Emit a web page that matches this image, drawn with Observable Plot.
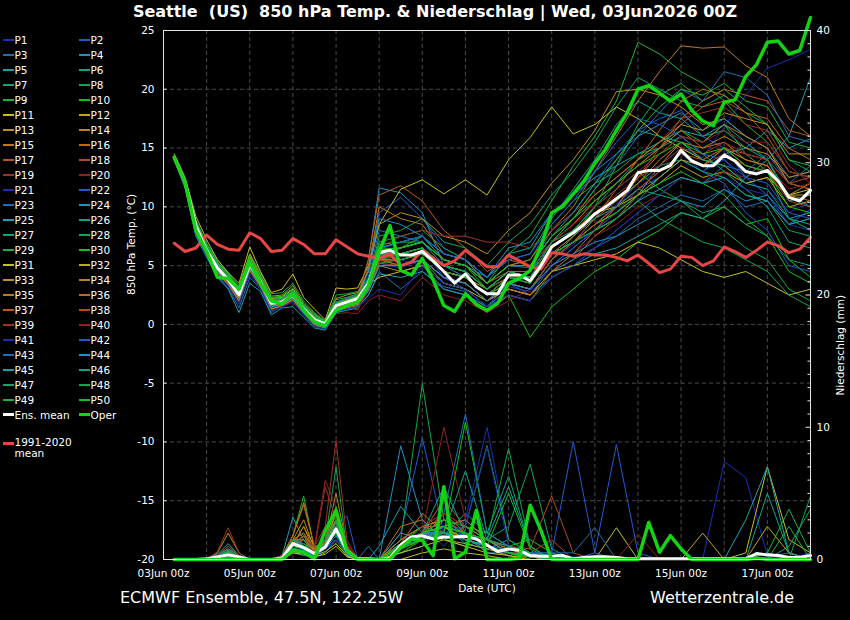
<!DOCTYPE html>
<html><head><meta charset="utf-8">
<script src="https://cdn.jsdelivr.net/npm/d3@7"></script>
<script src="https://cdn.jsdelivr.net/npm/@observablehq/plot@0.6"></script>
<style>
body{margin:0;background:#000;}
#wrap{position:relative;width:850px;height:620px;background:#000;overflow:hidden;font-family:"DejaVu Sans",sans-serif;color:#fff;}
#chart{position:absolute;left:0;top:0;}
#title{position:absolute;left:10px;width:850px;top:2px;text-align:center;font-weight:bold;font-size:16px;white-space:pre;}
#legend{position:absolute;left:0;top:0;width:160px;height:620px;}
.foot{position:absolute;top:588px;font-size:16px;white-space:nowrap;}
</style></head>
<body>
<div id="wrap">
  <div id="chart"></div>
  <div id="title">Seattle  (US)  850 hPa Temp. &amp; Niederschlag | Wed, 03Jun2026 00Z</div>
  <div id="legend"></div>
  <div class="foot" style="left:120px">ECMWF Ensemble, 47.5N, 122.25W</div>
  <div class="foot" style="left:650px">Wetterzentrale.de</div>
</div>
<script>
// ---------- data ----------
const hours6 = [6,12,18,24,30,36,42,48,54,60,66,72,78,84,90,96,102,108,114,120,126,132,138,144,150,156,162,168,174,180,186,192,198,204,210,216,222,228,234,240,246,252,258,264,270,276,282,288,294,300,306,312,318,324,330,336,342,348,354,360];
const memberHours = [6,12,18,24,30,36,42,48,54,60,66,72,78,84,90,96,102,108,114,120,132,144,156,168,180,192,204,216,228,240,252,264,276,288,300,312,324,336,348,360];
const xTickHours = [0,48,96,144,192,240,288,336];
const xTickLabels = ["03Jun 00z","05Jun 00z","07Jun 00z","09Jun 00z","11Jun 00z","13Jun 00z","15Jun 00z","17Jun 00z"];
const dayHours = [24,48,72,96,120,144,168,192,216,240,264,288,312,336];
const tempTicks = [-20,-15,-10,-5,0,5,10,15,20,25];
const tempGrid = [-15,-10,-5,0,5,10,15,20];
const precipTicks = [0,10,20,30,40];
const precipMinor = [1,2,3,4,5,6,7,8,9,11,12,13,14,15,16,17,18,19,21,22,23,24,25,26,27,28,29,31,32,33,34,35,36,37,38,39];

const ensMeanTemp = [14.2,12.1,8.4,6.3,4.8,3.8,2.5,5.1,3.6,1.8,1.9,2.5,1.3,0.4,0.05,1.6,1.9,2.2,3.5,6.1,6.3,5.9,5.9,6.2,5.4,4.5,3.5,4.3,3.2,2.6,2.6,4.2,4.2,3.7,5.0,6.6,7.2,7.8,8.5,9.4,10.0,10.7,11.4,12.9,13.1,13.1,13.5,14.8,13.9,13.5,13.5,14.4,13.9,13.0,12.8,13.1,12.2,10.8,10.5,11.4];
const operTemp = [14.2,12.1,8.0,6.2,4.0,3.9,3.0,5.3,3.5,2.0,1.75,2.6,1.2,0.2,-0.1,1.2,1.6,1.9,3.3,6.2,8.4,4.6,4.2,5.6,3.8,1.6,1.1,2.6,1.7,1.2,1.8,3.5,3.9,4.6,6.6,9.5,10.0,11.1,12.2,13.7,14.9,16.5,18.0,20.0,20.3,19.7,19.0,19.6,18.2,17.3,16.9,18.9,19.1,21.1,22.1,24.0,24.1,23.0,23.3,26.1];
const climTemp = [6.9,6.2,6.5,7.6,6.8,6.4,6.3,7.8,7.3,6.2,6.3,7.3,6.8,6.0,6.0,7.2,6.6,6.0,5.8,5.6,6.0,5.0,5.3,6.3,5.6,5.0,5.4,6.3,5.6,4.9,4.9,5.9,5.4,4.9,4.7,6.1,6.0,5.8,6.0,5.9,5.9,5.7,5.4,5.9,5.2,4.4,4.7,5.8,5.7,5.0,5.4,6.6,6.2,5.7,6.3,7.0,6.7,6.1,6.4,7.4];
const ensMeanPrecip = [0,0,0,0.05,0.2,0.35,0.2,0,0,0,0.1,1.2,0.9,0.45,0.95,2.3,0.7,0.05,0.05,0,0.1,1.1,1.7,1.8,1.55,1.7,1.7,1.75,1.55,1.1,0.6,0.8,0.7,0.3,0.25,0.25,0.3,0.05,0.15,0.2,0.2,0.15,0.05,0.05,0.05,0.05,0.05,0.05,0.05,0.05,0.05,0.05,0.05,0.05,0.45,0.35,0.3,0.15,0.15,0.3];
const operPrecip = [0,0,0,0,0,0,0,0,0,0,0,0.7,0.55,0.05,2.2,3.7,0.7,0,0,0,0,0.9,1.55,1.45,0.3,5.5,0.05,0.55,3.7,0,0,0,0.1,4.1,2.2,0,0,0,0,0,0,0,0,0,2.8,0.55,1.8,0.8,0,0,0,0,0,0,0.1,0,0,0,0,0];

const memberColors = ["#1a2fb4","#1f5cd2","#1f6fb4","#1f90c4","#17a2a8","#12a486","#12a468","#12a848","#1ab434","#12c412","#c4c020","#bca81a","#b8941a","#b8861a","#c07818","#c06a18","#b85a18","#b04a20","#a03222","#902020"];

const memberTemp = [
[14.1,11.8,8.0,6.0,4.5,3.6,2.2,4.8,3.4,1.6,1.8,2.3,1.1,0.2,-0.2,1.3,1.7,2.0,3.0,5.2,4.8,5.5,3.9,3.5,2.0,3.2,2.8,5.5,6.8,8.5,10.2,12.0,13.5,15.0,14.2,16.8,19.5,21.8,22.5,23.4],
[14.3,12.1,8.6,6.5,5.0,4.0,2.8,5.4,3.9,2.0,2.1,2.8,1.5,0.6,0.1,1.8,2.2,2.5,4.5,9.5,10.8,9.0,6.5,5.5,3.5,5.0,4.8,8.0,9.5,12.0,14.5,16.5,17.5,18.2,16.0,15.0,12.5,11.0,8.5,9.8],
[14.0,11.6,7.6,5.8,4.1,3.1,1.4,4.0,3.0,1.0,1.6,2.0,0.9,-0.1,-0.4,1.0,1.3,1.5,2.5,4.5,3.0,4.5,3.2,2.8,1.0,2.5,2.0,4.0,5.0,6.5,8.0,9.5,11.0,12.5,12.0,13.5,13.0,14.5,12.0,13.5],
[14.2,11.9,8.2,6.2,4.6,3.7,2.3,5.0,3.5,1.7,1.9,2.6,1.3,0.4,0.0,1.7,2.0,2.3,5.5,11.6,11.2,9.5,5.0,4.0,2.5,3.5,3.0,5.0,6.5,8.0,9.0,10.5,12.5,14.0,13.0,14.5,15.0,16.5,15.0,15.8],
[14.3,12.2,8.8,6.8,5.3,4.3,3.0,5.8,4.0,2.2,2.4,3.0,1.6,0.8,0.2,1.9,2.0,2.4,3.8,6.5,7.0,7.5,6.0,5.5,4.0,6.0,6.5,9.5,11.0,12.5,13.5,14.5,15.5,16.5,16.0,17.0,15.5,14.0,10.5,11.0],
[14.1,11.9,8.1,6.1,4.9,3.9,2.6,5.2,3.7,1.9,2.0,2.4,1.2,0.3,-0.1,1.5,1.8,2.1,3.2,5.8,6.5,7.0,5.0,4.5,3.0,4.0,3.5,6.5,8.0,10.0,12.0,14.0,15.0,16.0,14.5,13.0,11.5,10.0,7.0,6.5],
[14.2,12.0,8.4,6.4,4.7,3.8,2.5,5.1,3.6,1.8,1.9,2.5,1.4,0.5,0.1,1.6,1.9,2.2,3.5,7.5,8.0,9.0,7.0,6.5,5.0,7.0,8.5,11.0,13.0,15.5,18.5,21.0,20.0,19.0,18.5,19.5,18.0,17.0,14.0,13.0],
[14.4,12.3,8.9,6.9,5.5,4.4,3.3,6.0,4.4,2.6,2.7,3.5,2.0,1.0,0.3,2.5,2.6,2.8,4.0,7.0,7.5,8.0,6.5,5.5,3.5,5.0,5.5,8.5,10.5,12.0,13.0,14.5,15.0,16.5,15.5,17.0,14.5,13.0,9.0,8.0],
[14.2,12.0,8.3,6.3,4.8,3.8,2.5,5.1,3.6,1.8,1.9,2.5,1.3,0.4,0.0,1.6,1.9,2.2,3.4,6.0,6.5,7.5,5.5,5.0,3.5,6.0,7.5,10.5,13.5,16.0,19.0,24.0,23.0,21.5,20.5,19.0,17.0,15.5,13.0,12.5],
[14.1,11.8,8.0,6.1,4.6,3.6,2.3,4.9,3.4,1.6,1.7,2.3,1.1,0.2,-0.2,1.4,1.6,1.9,3.0,5.5,5.0,5.5,3.5,3.0,1.5,2.5,-1.1,1.5,3.0,4.5,5.5,7.0,8.0,9.5,9.0,10.0,8.5,9.0,5.5,4.0],
[14.5,12.5,9.2,7.2,5.5,4.4,3.5,6.6,4.5,2.7,3.0,4.3,2.3,1.3,0.4,3.1,3.0,3.1,5.0,8.5,11.5,12.3,11.1,12.3,11.0,14.0,15.9,18.5,16.2,17.0,18.5,17.5,16.0,15.0,14.0,13.5,12.0,12.5,11.0,11.5],
[14.2,12.1,8.5,6.6,5.1,4.1,2.9,5.7,4.0,2.2,2.3,3.0,1.7,0.7,0.1,1.9,2.2,2.5,3.6,5.5,5.5,6.0,4.5,4.0,2.5,4.0,4.0,6.0,7.0,8.5,9.5,11.0,12.0,13.5,12.5,13.0,12.0,12.5,10.0,10.5],
[14.3,12.2,8.7,6.7,5.2,4.2,3.1,6.0,4.2,2.4,2.5,3.3,1.8,0.9,0.2,2.2,2.5,2.7,4.5,8.5,9.5,9.0,7.5,7.0,6.0,8.0,9.5,12.0,14.0,16.5,19.8,20.0,19.5,18.5,17.0,17.5,16.0,15.0,12.0,11.5],
[14.0,11.7,7.8,5.9,4.4,3.4,2.0,4.6,3.2,1.3,1.6,2.1,1.0,0.0,-0.3,1.2,1.4,1.6,2.8,5.0,4.5,5.0,3.0,2.5,1.0,2.5,2.0,4.5,5.5,7.5,9.0,11.0,13.5,15.5,14.0,15.0,13.5,13.0,11.0,12.0],
[14.2,12.0,8.4,6.3,4.9,3.9,2.6,5.3,3.7,1.9,2.0,2.6,1.4,0.4,0.0,1.7,2.0,2.3,4.8,10.0,9.0,8.5,6.0,5.5,3.5,5.0,5.5,8.0,10.0,13.0,16.0,19.0,21.5,23.7,23.5,23.6,22.0,21.0,17.5,16.0],
[14.1,11.9,8.1,6.2,4.6,3.6,2.3,5.0,3.5,1.7,1.8,2.4,1.2,0.3,-0.1,1.5,1.8,2.1,3.2,5.5,5.0,5.5,4.0,3.5,2.0,3.5,3.0,5.5,7.0,9.0,11.5,14.0,16.5,19.0,20.0,19.5,18.0,17.5,15.0,14.0],
[14.3,12.1,8.6,6.5,5.0,4.0,2.8,5.4,3.8,2.0,2.1,2.8,1.5,0.6,0.1,1.8,2.1,2.4,5.5,11.0,11.8,10.5,8.0,6.5,4.5,5.5,5.0,7.0,8.5,10.5,12.0,13.5,15.0,17.0,18.5,19.0,18.0,16.0,13.0,12.5],
[14.2,12.0,8.2,6.2,4.7,3.7,2.4,5.0,3.5,1.7,1.8,2.4,1.2,0.3,-0.1,1.5,1.8,2.0,3.1,5.4,5.5,6.0,4.5,4.0,2.5,3.5,3.0,5.5,7.0,8.5,10.0,11.5,13.0,14.5,13.5,14.5,13.5,13.0,10.5,10.0],
[14.2,12.0,8.3,6.3,4.8,3.8,2.5,5.1,3.6,1.8,1.9,2.5,1.3,0.4,0.0,1.6,1.9,2.2,3.4,6.5,7.5,8.0,7.5,7.5,7.0,7.0,6.5,8.0,9.5,11.0,12.5,14.0,15.5,17.5,18.0,18.5,17.0,16.5,13.5,12.0],
[14.0,11.7,7.9,5.9,4.3,3.3,1.8,4.5,3.1,1.2,1.5,2.0,0.8,-0.2,-0.4,0.9,1.0,0.9,2.0,2.5,2.0,4.0,2.5,2.0,1.0,2.0,3.0,5.0,6.0,7.5,8.5,10.0,11.0,12.5,12.0,13.0,12.5,13.5,11.5,12.0],
[14.2,12.0,8.3,6.3,4.9,3.9,2.6,5.2,3.7,1.9,2.0,2.6,1.4,0.5,0.0,1.7,2.0,2.3,3.6,6.5,5.5,5.0,3.0,2.5,1.5,3.5,4.0,6.0,7.5,9.0,10.0,12.0,13.0,14.5,13.0,14.0,12.0,11.5,9.5,10.5],
[14.3,12.1,8.5,6.4,4.8,3.8,2.4,5.0,3.5,1.7,1.9,2.5,1.3,0.4,0.0,1.6,1.9,2.2,3.3,5.8,6.0,6.5,4.0,3.0,1.5,3.5,2.5,5.0,6.5,8.0,9.5,11.5,12.5,14.0,13.0,12.0,9.5,8.0,5.0,4.5],
[14.1,11.8,8.0,6.0,4.5,3.5,2.1,4.7,3.3,1.4,1.7,2.2,1.0,0.1,-0.3,1.3,1.5,1.7,2.9,5.0,5.0,5.5,4.0,3.5,2.0,3.0,2.5,4.5,5.5,6.5,7.5,9.0,10.0,11.0,10.5,11.5,10.0,10.5,8.5,9.0],
[14.2,11.9,8.3,6.3,4.8,3.8,2.4,5.0,3.6,1.8,1.9,2.5,1.3,0.4,0.0,1.6,1.9,2.2,4.5,9.0,8.5,7.5,5.5,5.0,4.0,6.5,7.0,9.5,11.0,13.0,14.5,16.0,17.0,18.0,16.5,17.5,16.0,15.0,12.5,13.0],
[14.0,11.6,7.5,5.7,4.0,3.0,1.0,3.5,2.8,0.8,1.4,1.5,0.6,-0.3,-0.5,1.0,1.2,1.4,2.5,4.3,4.0,4.5,3.0,2.5,1.5,3.0,2.5,4.0,5.0,6.0,6.5,7.5,8.5,9.5,9.0,10.5,12.5,14.0,16.0,21.0],
[14.3,12.2,8.7,6.7,5.2,4.2,3.0,5.6,3.9,2.1,2.2,2.9,1.6,0.7,0.2,1.9,2.1,2.4,3.8,6.5,7.0,7.5,6.0,5.5,4.0,5.5,6.0,9.0,11.5,14.0,17.0,19.0,18.0,17.5,16.0,16.5,15.0,14.0,11.0,10.0],
[14.2,12.0,8.3,6.3,4.8,3.8,2.5,5.1,3.6,1.8,1.9,2.5,1.3,0.4,0.0,1.6,1.9,2.2,3.4,6.0,6.0,6.5,5.0,4.5,3.0,4.5,4.5,7.0,8.0,9.5,10.5,12.0,13.5,14.0,13.0,12.5,11.0,10.5,8.0,7.5],
[14.1,11.9,8.2,6.2,4.7,3.7,2.4,5.0,3.5,1.7,1.8,2.4,1.2,0.3,-0.1,1.5,1.8,2.0,3.1,5.2,5.5,6.0,4.5,4.0,2.5,4.0,4.0,6.5,8.0,10.0,11.5,13.0,11.5,10.5,9.0,8.0,6.5,5.5,3.0,2.0],
[14.2,12.1,8.4,6.4,4.9,3.9,2.6,5.2,3.7,1.9,2.0,2.6,1.4,0.5,0.0,1.7,2.0,2.3,3.5,6.0,5.5,6.0,4.5,4.0,2.5,3.5,3.0,5.5,7.5,10.0,13.5,17.0,19.5,20.5,19.0,20.0,18.5,17.0,14.0,13.5],
[14.4,12.3,8.8,6.8,5.3,4.3,3.1,5.8,4.1,2.3,2.4,3.1,1.7,0.8,0.3,2.1,2.3,2.6,3.9,6.8,7.0,7.0,5.5,5.0,3.0,4.0,3.5,6.0,7.0,8.5,9.5,11.0,12.0,13.0,12.0,11.0,9.0,7.5,4.5,3.5],
[14.2,12.0,8.3,6.3,4.8,3.8,2.5,5.1,3.6,1.8,1.9,2.5,1.3,0.4,0.0,1.6,1.9,2.2,3.4,4.0,4.5,5.0,3.5,3.0,2.0,3.0,2.5,4.5,5.0,5.5,6.0,7.0,6.5,5.5,4.5,4.0,4.5,3.5,2.5,3.0],
[14.1,11.8,8.0,6.0,4.5,3.5,2.2,4.8,3.4,1.6,1.8,2.3,1.1,0.2,-0.2,1.4,1.7,1.9,3.0,5.5,6.0,6.5,4.5,4.0,3.0,4.5,4.0,6.5,8.0,9.5,10.0,11.0,12.5,14.0,13.5,15.0,14.0,13.5,11.0,11.0],
[14.3,12.1,8.6,6.5,5.0,4.0,2.7,5.3,3.8,2.0,2.1,2.7,1.5,0.6,0.1,1.8,2.1,2.4,3.7,6.3,6.5,7.0,5.5,5.0,3.5,5.0,5.0,7.5,9.0,11.0,12.5,14.0,15.5,17.0,16.5,18.0,17.5,17.0,14.5,14.5],
[14.2,12.0,8.3,6.3,4.8,3.8,2.5,5.1,3.6,1.8,1.9,2.5,1.3,0.4,0.0,1.6,1.9,2.2,3.4,6.0,6.0,6.5,4.5,4.0,2.5,4.0,4.0,6.0,7.5,9.0,10.5,12.0,14.0,15.5,15.0,16.0,15.0,14.5,12.5,13.0],
[14.0,11.7,7.8,5.9,4.4,3.4,2.0,4.6,3.2,1.3,1.6,2.1,1.0,0.0,-0.3,1.2,1.5,1.7,2.9,5.0,5.0,5.5,4.0,3.5,2.0,3.0,2.5,4.5,6.0,8.0,10.0,12.5,14.5,16.0,15.5,17.0,16.0,15.0,12.0,11.5],
[14.3,12.2,8.7,6.6,5.1,4.1,2.9,5.6,3.9,2.1,2.2,2.8,1.5,0.6,0.1,1.8,2.1,2.4,3.6,6.2,6.5,7.0,5.5,5.0,3.5,4.5,4.5,7.0,8.5,10.5,12.0,13.5,15.0,16.5,15.0,15.5,14.0,13.5,11.0,10.5],
[14.2,12.0,8.3,6.3,4.8,3.8,2.5,5.1,3.6,1.8,1.9,2.5,1.3,0.4,0.0,1.6,1.9,2.2,3.4,6.0,6.0,6.5,4.5,4.0,2.5,4.0,3.5,6.0,7.0,8.5,10.0,12.5,15.0,17.5,19.0,20.0,19.5,19.0,16.5,16.0],
[14.1,11.9,8.1,6.1,4.6,3.6,2.3,4.9,3.4,1.6,1.8,2.3,1.1,0.2,-0.2,1.4,1.7,2.0,3.0,5.2,5.0,5.5,4.0,3.5,2.0,3.5,3.0,5.5,7.0,8.5,10.0,11.5,13.0,14.5,14.0,15.0,14.5,14.0,12.0,12.5],
[14.3,12.1,8.5,6.5,5.0,4.0,2.7,5.3,3.8,2.0,2.1,2.7,1.4,0.5,0.0,1.7,1.6,1.2,3.0,5.5,6.0,6.5,5.0,4.5,3.0,4.0,4.0,6.5,8.0,9.5,11.0,12.5,13.5,15.0,14.5,15.5,14.5,14.0,12.0,11.5],
[14.2,12.0,8.3,6.3,4.8,3.8,2.5,5.1,3.6,1.8,1.9,2.5,1.3,0.4,0.0,1.6,1.9,2.2,3.4,6.0,6.0,6.5,5.0,4.5,3.0,4.5,4.5,7.0,8.5,10.0,11.5,13.0,14.5,16.0,15.5,16.5,15.5,15.5,13.0,12.5],
[14.0,11.7,7.7,5.8,4.2,3.2,1.7,4.3,3.0,1.1,1.5,1.9,0.8,-0.2,-0.4,1.1,1.3,1.5,2.2,3.0,2.5,5.0,3.5,3.0,1.5,2.5,2.0,4.0,5.0,6.5,8.0,9.5,11.0,12.5,12.0,12.5,11.5,11.0,8.5,8.0],
[14.3,12.2,8.6,6.6,5.1,4.1,2.8,5.5,3.9,2.1,2.2,2.8,1.5,0.6,0.1,1.9,2.2,2.5,3.7,6.4,7.0,7.5,6.0,5.5,4.0,5.5,6.0,8.5,10.5,13.0,15.5,17.5,17.0,16.0,14.5,14.0,12.5,12.0,9.5,9.0],
[14.2,12.0,8.3,6.3,4.8,3.8,2.5,5.1,3.6,1.8,1.9,2.5,1.3,0.4,0.0,1.6,1.9,2.2,4.0,8.0,7.5,7.0,5.0,4.5,3.0,4.5,4.5,7.0,9.0,11.5,13.5,16.0,18.0,20.0,19.0,21.5,21.0,19.5,16.0,15.5],
[14.1,11.8,8.0,6.0,4.5,3.5,2.1,4.7,3.3,1.5,1.7,2.2,1.0,0.1,-0.3,1.3,1.6,1.8,2.9,5.0,5.0,5.5,4.0,3.5,2.0,3.5,3.0,5.0,6.0,7.0,7.5,8.5,9.5,10.5,10.0,11.5,10.5,11.0,9.0,9.5],
[14.2,12.0,8.3,6.3,4.8,3.8,2.5,5.1,3.6,1.8,1.9,2.5,1.3,0.4,0.0,1.6,1.9,2.2,3.4,6.0,6.0,6.5,5.0,4.5,3.0,4.5,4.0,6.0,7.0,8.0,9.0,10.5,11.5,12.5,12.0,12.5,11.0,10.5,8.5,9.0],
[14.3,12.1,8.5,6.5,5.0,4.0,2.7,5.3,3.8,2.0,2.1,2.7,1.4,0.5,0.0,1.7,2.0,2.3,3.5,6.2,6.5,7.0,5.5,5.0,3.5,5.0,5.0,7.5,9.5,12.0,14.0,16.5,16.0,15.5,14.0,13.5,12.0,11.5,9.0,8.5],
[14.2,12.0,8.3,6.3,4.8,3.8,2.5,5.1,3.6,1.8,1.9,2.5,1.3,0.4,0.0,1.6,1.9,2.2,3.4,6.0,6.0,6.5,5.0,4.5,3.0,4.5,4.5,6.5,8.0,9.0,10.0,11.5,11.0,10.5,9.5,10.0,8.5,7.5,5.5,5.0],
[14.1,11.9,8.2,6.2,4.7,3.7,2.4,5.0,3.5,1.7,1.8,2.4,1.2,0.3,-0.1,1.5,1.8,2.1,3.2,5.6,5.5,6.0,4.5,4.0,2.5,4.0,3.5,6.0,7.0,8.0,9.0,10.5,9.0,8.0,7.0,6.5,5.5,4.5,2.5,1.5],
[14.2,12.0,8.3,6.3,4.8,3.8,2.5,5.1,3.6,1.8,1.9,2.5,1.3,0.4,0.0,1.6,1.9,2.2,3.4,6.0,6.0,6.5,5.0,4.5,3.0,4.5,4.0,7.0,9.0,11.5,14.0,16.5,18.5,20.0,19.5,20.5,19.0,18.5,15.5,15.0],
[14.3,12.2,8.6,6.6,5.1,4.1,2.8,5.5,3.9,2.1,2.2,2.8,1.5,0.6,0.1,1.8,2.1,2.4,3.7,6.4,6.5,7.0,5.5,5.0,3.5,5.0,5.0,7.5,9.0,10.5,12.0,13.5,14.5,15.5,14.5,15.0,13.5,13.0,10.0,9.5]
];

const memberPrecip = [
[0,0,0,0,0,0.2,0,0,0,0,0.1,1.5,0.8,0.5,1.0,2.0,0.5,0,0,0,1.5,2.5,1.0,3.0,1.5,0.5,0,0,0,0,0,0,0,0,0,7.4,6.2,0.3,0,0],
[0,0,0,0,0.1,0.3,0.1,0,0,0,0,1.0,1.5,0.4,0.8,1.5,0.3,0,0,0,2.0,9.2,2.0,1.5,0.8,0.5,0.3,0,0.2,0,0,0,0,0,0,0,0,0,0,0.5],
[0,0,0,0,0.2,0.5,0.2,0,0,0,0.2,0.8,0.6,0.3,1.2,2.5,0.8,0,1.0,0,1.0,1.8,2.5,2.0,1.0,0.8,0.2,0,0,0,0,0,0,0,0,0,0,0.2,0.5,0],
[0,0,0,0,0,0.1,0,0,0,0,0,0.5,0.3,0.2,0.5,1.5,0.3,0,0,0,0.5,1.0,3.0,1.8,0.5,0.5,0,0,0,0,0,0,0,0,0,0,0,0,0,0],
[0,0,0,0,0.4,1.2,0.3,0,0,0,0.3,3.2,1.5,0.5,1.0,2.0,0.5,0,0,0,2.0,1.5,2.5,1.2,0.8,1.5,0.5,0,0,0,0,0,0,0,0,0,0,0,0,0],
[0,0,0,0,0.1,0.3,0.1,0,0,0,0,1.2,0.9,0.5,0.8,2.5,0.7,0,0,0,1.2,2.0,1.8,3.5,2.0,1.0,0.5,0,0,0,0,0,0,0,0,0,0,0.5,0,0],
[0,0,0,0,0.2,0.7,0.2,0,0,0,0.2,1.0,1.8,0.6,0.9,3.0,0.5,0,0,0,0.8,2.0,1.5,1.0,1.5,2.5,7.2,0.8,0,0,0,0,0,0,0,0,0,0,0,0],
[0,0,0,0,0,0.3,0.1,0,0,0,0.1,1.5,0.7,0.4,1.5,7.0,0.8,0,0,0,1.5,13.3,3.0,2.0,1.0,0.5,0,0,0,0,0,0,0,0,0,0,0,0,0,0],
[0,0,0,0,0.3,1.0,0.3,0,0,0,0.2,1.8,4.8,0.8,1.0,2.5,0.5,0,0,0,1.0,2.5,2.0,1.5,1.0,0.5,0.2,0,0,0,0,0,0,0,0,0,0,0.5,3.8,0.5],
[0,0,0,0,0,0.2,0,0,0,0,0,0.8,0.5,0.3,0.8,1.5,0.4,0,0,0,0.5,1.5,2.0,10.4,2.0,1.0,1.5,0.5,0,0,0,0,0,0,0,0,0,0,0,0],
[0,0,0,0,0,0.1,0,0,0,0,0,0.5,0.4,0.2,0.4,1.0,0.2,0,0,0,0,0.5,0.8,0.5,0.3,0,0,0,0,0,0,0,0,0,0,0,0.5,7.0,1.5,0.5],
[0,0,0,0,0.1,0.4,0.2,0,0,0,0.1,1.3,1.0,0.6,1.2,3.5,0.6,0,0,0,1.0,2.0,1.5,1.2,0.8,0.3,0,0,0,0,0,0,0,0,2.0,0,0,0,0,0],
[0,0,0,0,0.5,2.0,0.5,0,0,0,0.3,1.8,4.3,0.9,1.5,3.5,1.0,0,0,0,1.5,2.0,2.5,1.5,1.0,0.5,0.3,0,0,0,0,0,0,0,0,0,0,0,0,0],
[0,0,0,0,0.1,0.5,0.2,0,0,0,0.2,1.0,1.2,0.8,1.3,5.0,1.0,0,0,0,0.8,1.5,3.5,2.0,1.0,0.5,0.2,0,0,0,0,0,0,0,0,0,0,0,0,0],
[0,0,0,0,0.2,0.6,0.2,0,0,0,0.1,1.2,2.5,1.0,1.0,2.8,0.8,0,0,0,2.5,3.0,1.5,2.5,1.5,0.8,0.3,0,0,0,0,0,0,0,0,0,0,0,0,0],
[0,0,0,0,0.3,0.8,0.3,0,0,0,0.2,1.5,2.0,0.6,1.5,3.0,0.5,0,0,0,1.5,2.5,2.0,1.5,1.0,0.5,0.5,0.3,0,0,0,0,0,0,0,0,0,0,0,0],
[0,0,0,0,0.2,0.5,0.2,0,0,0,0.3,1.8,4.1,1.0,1.2,3.0,0.8,0,0,0,1.2,2.0,4.5,2.5,1.0,0.5,0.3,0,0,0,0,0,0,0,0,0,0,0,0,0],
[0,0,0,0,0.1,0.3,0.1,0,0,0,0.1,1.0,1.5,0.5,1.5,2.5,0.5,0,0,0,1.0,1.5,2.0,1.8,1.5,1.0,0.8,4.8,0.5,0,0,0,0,0,0,0,0,0,0,0],
[0,0,0,0,0.6,2.4,0.5,0,0,0,0.3,1.5,1.5,0.8,5.5,3.0,1.0,0,0,0,1.0,1.5,2.5,2.0,1.0,0.5,0,0,0,0,0,0,0,0,0,0,0,0,0,0],
[0,0,0,0,0.2,0.5,0.2,0,0,0,0.2,1.2,1.5,1.0,6.0,4.0,1.2,0,0,0,1.0,2.0,10.0,3.0,1.5,0.5,0,0,0,0,0,0,0,0,0,0,0,0,0,0],
[0,0,0,0,0,0.2,0,0,0,0,0.1,0.8,0.6,0.3,0.8,1.5,0.4,0,0,0,1.5,2.0,2.5,3.0,10.0,1.5,0.5,0,0,0,0,0,0,0,0,0,0,0,0,0],
[0,0,0,0,0.1,0.3,0.1,0,0,0,0,1.0,0.8,0.5,1.0,2.0,0.5,0,0,0,1.0,1.5,2.0,1.5,1.0,0.8,0.5,0.3,0,0.5,8.7,0.5,0,0,0,0,0,0,0,0],
[0,0,0,0,0.2,0.5,0.2,0,0,0,0.2,1.2,1.0,0.4,1.2,2.2,0.6,0,0,0,1.5,2.5,3.5,11.0,2.0,1.0,0.5,0,0,0,0,0,0,0,0,0,0,0,0,0],
[0,0,0,0,0.1,0.4,0.1,0,0,0,0.1,1.5,1.2,0.5,1.0,2.0,0.5,0,0,0,8.6,3.0,1.5,2.0,1.0,0.5,0,0,0,0,0,0,0,0,0,0,0,0,0,0],
[0,0,0,0,0.3,0.8,0.3,0,0,0,0.2,1.5,1.0,0.5,1.5,2.5,0.7,0,0,0,1.0,2.0,2.5,2.0,1.5,5.5,1.0,0,0,0,0,0,0,0,0,0,0,0,0,0],
[0,0,0,0,0.1,0.3,0.1,0,0,0,0.1,1.0,0.8,0.4,1.0,2.5,0.5,0,0,0,1.0,2.0,2.0,6.7,1.5,0.5,0,0,0,0,0,0,0,0,0,0,0,5.0,0.5,0],
[0,0,0,0,0.2,0.5,0.2,0,0,0,0.1,1.2,1.5,0.5,1.0,3.0,0.5,0,0,0,1.0,1.5,2.0,2.5,2.0,6.3,1.0,0,0,0,0,0,0,0,0,0,0,0,0,0],
[0,0,0,0,0.1,0.3,0.1,0,0,0,0.1,0.8,1.0,0.5,1.2,2.0,0.6,0,0,0,1.0,1.5,2.0,1.5,1.0,0.5,0.3,0,0,0,0,0,0,0,0,0,0,0,1.0,3.8],
[0,0,0,0,0.2,0.6,0.2,0,0,0,0.2,1.5,2.0,0.8,1.5,4.0,0.8,0,0,0,1.2,2.5,2.0,2.5,8.6,1.5,0.5,0,0,0,0,0,0,0,0,0,0,0,0,0],
[0,0,0,0,0.1,0.3,0.1,0,0,0,0.1,1.0,1.2,0.5,1.0,2.5,0.5,0,0,0,0.8,1.5,2.0,1.5,1.0,5.0,0.8,0,0,0,0,0,0,0,0,0,0,0,0,0],
[0,0,0,0,0,0.2,0,0,0,0,0,0.6,0.5,0.3,0.6,1.2,0.3,0,0,0,0.5,1.0,1.5,1.0,0.5,0.3,0,0,0,0,2.4,0,0,0,0,0,0,0,0,0],
[0,0,0,0,0.1,0.4,0.1,0,0,0,0.1,1.2,1.0,0.5,1.0,2.0,0.6,0,0,0,1.0,2.0,2.5,1.5,1.0,0.5,0.2,0,0,0,0,0,0,0,0,0,0,2.5,0.5,0],
[0,0,0,0,0.2,0.5,0.2,0,0,0,0.2,1.5,3.0,0.8,1.2,3.0,0.8,0,0,0,1.5,2.5,3.0,2.0,1.0,0.5,0.2,0,0,0,0,0,0,0,0,0,0,0,0,0],
[0,0,0,0,0.1,0.3,0.1,0,0,0,0.1,1.0,2.5,0.6,1.5,2.5,0.6,0,0,0,1.0,2.0,2.5,3.0,1.5,0.8,0.3,0,0,0,0,0,0,0,0,0,0,0,0,0],
[0,0,0,0,0.2,0.5,0.2,0,0,0,0.2,1.5,1.5,0.7,1.2,3.5,0.8,0,0,0,1.2,3.5,2.0,1.5,1.0,0.5,0,0,0,0,0,0,0,0,0,0,0,0,0,0],
[0,0,0,0,0.1,0.4,0.1,0,0,0,0.1,1.2,1.8,0.5,1.0,2.5,0.5,0,0,0,1.0,2.0,3.5,2.5,1.5,0.5,0.3,0,0,0,0,0,0,0,0,0,0,0,0,0],
[0,0,0,0,0.2,0.6,0.2,0,0,0,0.2,1.5,2.0,0.8,1.5,3.0,0.7,0,0,0,1.5,2.5,2.5,2.0,1.0,0.5,0,0,0,0,0,0,0,0,0,0,0,0,0,0],
[0,0,0,0,0.1,0.3,0.1,0,0,0,0.1,1.0,1.5,0.5,2.0,2.5,0.5,0,0,0,1.0,1.5,2.5,2.0,1.5,0.8,0.5,1.5,0,0,0,0,0,0,0,0,0,0,0,0],
[0,0,0,0,0.3,1.0,0.3,0,0,0,0.2,1.5,1.5,1.0,2.5,9.0,1.5,0,0,0,1.0,2.0,3.0,2.0,1.0,0.5,0,0,0,0,0,0,0,0,0,0,0,0,0,0],
[0,0,0,0,0.2,0.5,0.2,0,0,0,0.2,1.2,1.2,0.6,1.5,3.0,0.8,0,0,0,1.0,2.5,3.5,2.5,1.0,0.5,0,0,0,0,0,1.9,0,0,0,0,0,0,0,0],
[0,0,0,0,0,0.2,0,0,0,0,0.1,0.8,0.6,0.3,0.8,1.5,0.5,0,0,0,1.0,1.5,2.0,2.5,8.5,1.0,0.3,0,0,0,0,0,0,0,0,0,0,0,0,0],
[0,0,0,0,0.1,0.3,0.1,0,0,0,0.1,1.0,1.0,0.5,1.0,2.5,3.3,0,0,0,1.0,2.0,2.0,1.5,1.0,0.8,0.5,0.5,8.9,0.5,0,0,0,0,0,0,0,0,0,0],
[0,0,0,0,0.1,0.4,0.1,0,0,0,0.1,1.2,0.8,0.4,1.0,2.0,0.5,0,0,0,1.2,2.0,1.5,2.0,1.5,1.0,0.5,0.5,0.5,2.4,0,0,0,0,0,0,0,0,0,0],
[0,0,0,0,0,0.2,0,0,0,0,0.1,0.8,0.7,0.3,0.8,1.8,0.4,0,0,0,1.0,1.5,2.5,2.0,1.0,0.5,0.3,0,0,0,0,0,0,0,0,0,0,0,0,0],
[0,0,0,0,0.2,0.6,0.2,0,0,0,0.2,1.5,1.0,0.5,1.2,2.5,0.5,0,0,1.0,4.0,2.0,2.0,1.5,1.0,0.5,0.3,0,0,0,0,0,0,0,0,0,3.0,7.0,0.5,0],
[0,0,0,0,0.1,0.3,0.1,0,0,0,0.1,1.0,0.9,0.5,1.0,2.2,0.5,0,0,0,1.0,2.0,5.5,2.0,1.0,0.5,0.3,0,0,0,0,0,0,0,0,0,0,0,0,0],
[0,0,0,0,0.2,0.5,0.2,0,0,0,0.2,1.2,1.2,0.5,1.2,2.8,0.6,0,0,0,1.0,2.0,2.5,2.0,1.5,1.0,0.5,0,0,0,0,0,0,0,0,0,0,0,0,4.8],
[0,0,0,0,0.1,0.3,0.1,0,0,0,0.1,0.8,1.0,0.4,1.0,2.0,0.5,0,0,0,1.0,1.5,2.0,2.0,1.5,8.4,1.0,0,0,0,0,0,0,0,0,0,0,0,0,0],
[0,0,0,0,0.2,0.6,0.2,0,0,0,0.2,1.5,1.5,0.6,1.5,3.0,0.7,0,0,0,1.2,2.0,3.0,2.5,1.5,0.5,0.2,0,0,0,0,0,0,0,0,0,0,0,2.5,0],
[0,0,0,0,0.1,0.3,0.1,0,0,0,0.1,1.0,1.0,0.5,1.0,2.0,0.5,0,0,0,1.0,2.0,2.5,2.0,1.0,0.5,0,0,0,0,0,0,0,0,0,0,0,0,0,0]
];

const memberNames = memberTemp.map((_, i) => "P" + (i + 1));
const meanColor = "#ffffff", operColor = "#14d214", climColor = "#e84545";

// precipitation (0..40 mm, right axis) drawn on the temperature scale (-20..25 °C)
const mmToT = mm => -20 + mm * 45 / 40;

// ---------- chart ----------
const marks = [
  Plot.gridX(dayHours, {stroke: "#4a4a4a", strokeOpacity: 1, strokeDasharray: "4,3"}),
  Plot.gridY(tempGrid, {stroke: "#4a4a4a", strokeOpacity: 1, strokeDasharray: "4,3"})
];
memberPrecip.forEach((vals, i) => {
  marks.push(Plot.line(vals, {x: memberHours, y: vals.map(mmToT), stroke: memberColors[i % 20], strokeWidth: 1}));
});
memberTemp.forEach((vals, i) => {
  marks.push(Plot.line(vals, {x: memberHours, y: vals, stroke: memberColors[i % 20], strokeWidth: 1}));
});
marks.push(
  Plot.line(climTemp, {x: hours6, y: climTemp, stroke: climColor, strokeWidth: 3}),
  Plot.line(ensMeanTemp, {x: hours6, y: ensMeanTemp, stroke: meanColor, strokeWidth: 3}),
  Plot.line(ensMeanPrecip, {x: hours6, y: ensMeanPrecip.map(mmToT), stroke: meanColor, strokeWidth: 3}),
  Plot.line(operTemp, {x: hours6, y: operTemp, stroke: operColor, strokeWidth: 3.5}),
  Plot.line(operPrecip, {x: hours6, y: operPrecip.map(mmToT), stroke: operColor, strokeWidth: 3.5}),
  Plot.frame({stroke: "#e6e6e6"}),
  Plot.ruleY(tempTicks, {x1: 0, x2: 2, stroke: "#e6e6e6"}),
  Plot.ruleY(precipTicks.map(mmToT), {x1: 357.5, x2: 360, stroke: "#e6e6e6"}),
  Plot.ruleY(precipMinor.map(mmToT), {x1: 358.6, x2: 360, stroke: "#e6e6e6"}),
  Plot.axisX(xTickHours, {tickSize: 0, tickPadding: 10, label: null, fontSize: 10.5,
    tickFormat: d => xTickLabels[xTickHours.indexOf(d)]}),
  Plot.axisY(tempTicks, {anchor: "left", tickSize: 0, tickPadding: 9, label: null, fontSize: 10.5,
    tickFormat: d => String(d)}),
  Plot.axisY(precipTicks.map(mmToT), {anchor: "right", tickSize: 0, tickPadding: 6, label: null, fontSize: 10.5,
    tickFormat: t => String(precipTicks[precipTicks.map(mmToT).indexOf(t)])}),
  Plot.text(["850 hPa Temp. (°C)"], {frameAnchor: "left", dx: -32, rotate: -90, fill: "#fff", fontSize: 10.5}),
  Plot.text(["Niederschlag (mm)"], {frameAnchor: "right", dx: 30, rotate: -90, fill: "#fff", fontSize: 10.5}),
  Plot.text(["Date (UTC)"], {frameAnchor: "bottom", dy: 32, fill: "#fff", fontSize: 10.5})
);

const chart = Plot.plot({
  width: 850, height: 620,
  marginLeft: 163, marginRight: 40, marginTop: 30, marginBottom: 61,
  style: {background: "#000", color: "#fff", fontFamily: "DejaVu Sans, sans-serif", fontSize: "10.5px", overflow: "visible"},
  x: {domain: [0, 360]},
  y: {domain: [-20, 25]},
  marks
});
document.getElementById("chart").appendChild(chart);

// ---------- legend ----------
const legend = document.getElementById("legend");
function addItem(x, yc, color, label, thick) {
  const sw = document.createElement("div");
  sw.style.cssText = `position:absolute;left:${x}px;top:${yc - thick / 2}px;width:11px;height:${thick}px;background:${color}`;
  legend.appendChild(sw);
  const tx = document.createElement("div");
  tx.style.cssText = `position:absolute;left:${x + 11.5}px;top:${yc - 7}px;font-size:10.5px;line-height:14px;white-space:nowrap`;
  tx.innerHTML = label;
  legend.appendChild(tx);
}
memberNames.forEach((name, i) => {
  const row = Math.floor(i / 2), col = i % 2;
  addItem(col ? 79 : 3, 39.5 + 15 * row, memberColors[i % 20], name, 2);
});
addItem(3, 414.5, meanColor, "Ens. mean", 3);
addItem(79, 414.5, operColor, "Oper", 3);
(function () {
  const sw = document.createElement("div");
  sw.style.cssText = `position:absolute;left:3px;top:442px;width:11px;height:3px;background:${climColor}`;
  legend.appendChild(sw);
  const tx = document.createElement("div");
  tx.style.cssText = "position:absolute;left:14.5px;top:437px;font-size:10.5px;line-height:10.5px;white-space:nowrap";
  tx.innerHTML = "1991-2020<br>mean";
  legend.appendChild(tx);
})();
</script>
</body></html>
